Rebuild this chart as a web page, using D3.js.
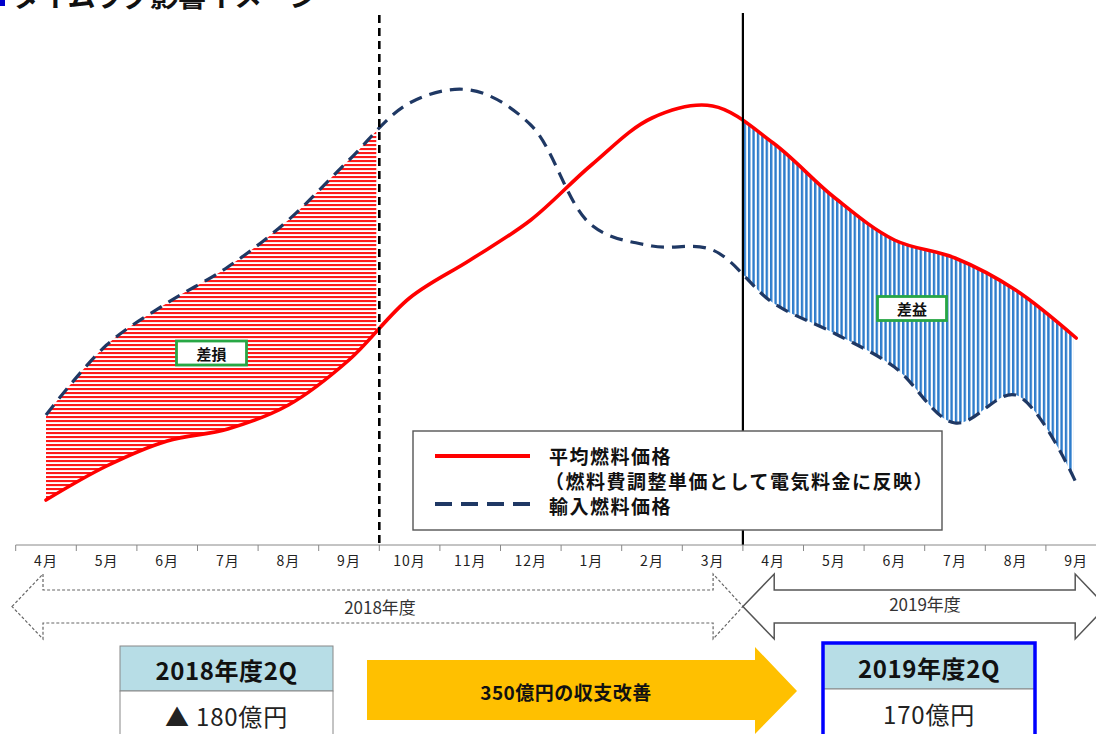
<!DOCTYPE html>
<html><head><meta charset="utf-8">
<script src="https://cdn.jsdelivr.net/npm/d3@7/dist/d3.min.js"></script>
<style>
html,body{margin:0;padding:0;background:#fff;}
svg{display:block;font-family:"Noto Sans CJK JP","Noto Sans",sans-serif;}
</style></head>
<body><svg id="chart" width="1096" height="734"></svg>
<script>
// ---- data ----
const months = ["4月","5月","6月","7月","8月","9月","10月","11月","12月","1月","2月","3月","4月","5月","6月","7月","8月","9月"];
const avgFuelPrice    = [9, 15.8, 20.8, 23.2, 28, 37, 49.4, 57, 65, 76, 85.4, 87.8, 80.4, 69.6, 61, 57.4, 51, 41.4];
const importFuelPrice = [26, 40, 48.4, 55.6, 65, 77, 88.4, 91, 84, 64, 59.8, 59, 48.4, 42.4, 35.6, 24.4, 30, 12.4];
const seriesNames = ["平均燃料価格", "（燃料費調整単価として電気料金に反映）", "輸入燃料価格"];
const fiscalYears = ["2018年度", "2019年度"];
const fiscalRanges = [[0, 11], [12, 17]];
const lossLabel = "差損", gainLabel = "差益";
const lossRange = [0, 5], gainRange = [12, 17];
const summaryLabels = ["2018年度2Q", "2019年度2Q"];
const summaryValues = ["▲ 180億円", "170億円"];
const improvementText = "350億円の収支改善";
const titleText = "タイムラグ影響イメージ";

// ---- setup ----
const svg = d3.select("#chart");
const idx = months.map((d, i) => i);
const band = d3.scaleBand().domain(idx).range([15.7, 15.7 + 18 * 60.6]).paddingInner(0).paddingOuter(0);
const x = i => band(i) + band.bandwidth() / 2;
const y = d3.scaleLinear().domain([0, 100]).range([545, 45]);
const axisY = 545;

const defs = svg.append("defs");
const pr = defs.append("pattern").attr("id", "hRed").attr("patternUnits", "userSpaceOnUse").attr("width", 8).attr("height", 4);
pr.append("rect").attr("x", 0).attr("y", 0).attr("width", 8).attr("height", 2.1).attr("fill", "#ff1a1a");
const pb = defs.append("pattern").attr("id", "vBlue").attr("patternUnits", "userSpaceOnUse").attr("width", 4.4).attr("height", 8);
pb.append("rect").attr("x", 0).attr("y", 0).attr("width", 2.4).attr("height", 8).attr("fill", "#2e7dcc");

const dashX = band(6);     // boundary 9月/10月
const solidX = band(12);   // boundary 3月/4月

defs.append("clipPath").attr("id", "clipLoss").append("rect")
  .attr("x", x(lossRange[0]) - 2).attr("y", 0).attr("width", dashX - 3 - (x(lossRange[0]) - 2)).attr("height", 734);
defs.append("clipPath").attr("id", "clipGain").append("rect")
  .attr("x", solidX).attr("y", 0).attr("width", x(gainRange[1]) - 3 - solidX).attr("height", 734);

const curve = d3.curveCatmullRom.alpha(0.5);
const area = d3.area().x(i => x(i)).y0(i => y(avgFuelPrice[i])).y1(i => y(importFuelPrice[i])).curve(curve);

svg.append("path").attr("d", area(idx)).attr("fill", "url(#hRed)").attr("clip-path", "url(#clipLoss)");
svg.append("path").attr("d", area(idx)).attr("fill", "url(#vBlue)").attr("clip-path", "url(#clipGain)");

const lineAvg = d3.line().x(i => x(i)).y(i => y(avgFuelPrice[i])).curve(curve);
const lineImp = d3.line().x(i => x(i)).y(i => y(importFuelPrice[i])).curve(curve);

svg.append("path").attr("d", lineImp(idx)).attr("fill", "none").attr("stroke", "#1f3864")
  .attr("stroke-width", 3.2).attr("stroke-dasharray", "13,8");
svg.append("path").attr("d", lineAvg(idx)).attr("fill", "none").attr("stroke", "#ff0000")
  .attr("stroke-width", 3.6).attr("stroke-linecap", "round");

// vertical lines
svg.append("line").attr("x1", dashX).attr("x2", dashX).attr("y1", 15).attr("y2", axisY)
  .attr("stroke", "#000").attr("stroke-width", 2.6).attr("stroke-dasharray", "8,5");
svg.append("line").attr("x1", solidX).attr("x2", solidX).attr("y1", 13).attr("y2", axisY)
  .attr("stroke", "#000").attr("stroke-width", 2.2);

// region labels
function tagBox(cx, cy, w, h, txt) {
  svg.append("rect").attr("x", cx - w / 2).attr("y", cy - h / 2).attr("width", w).attr("height", h)
    .attr("fill", "#fff").attr("stroke", "#28a745").attr("stroke-width", 2.8);
  svg.append("text").attr("x", cx).attr("y", cy).attr("text-anchor", "middle").attr("dominant-baseline", "central")
    .attr("font-size", 15).attr("font-weight", "bold").attr("fill", "#111").text(txt);
}
tagBox(211.5, 353, 70, 24, lossLabel);
tagBox(912, 308.5, 69, 24, gainLabel);

// legend
const lg = svg.append("g");
lg.append("rect").attr("x", 413).attr("y", 431).attr("width", 529).attr("height", 99)
  .attr("fill", "#fff").attr("stroke", "#555").attr("stroke-width", 1.4);
lg.append("line").attr("x1", 435).attr("x2", 530).attr("y1", 456).attr("y2", 456)
  .attr("stroke", "#ff0000").attr("stroke-width", 4);
lg.append("line").attr("x1", 435).attr("x2", 531).attr("y1", 504).attr("y2", 504)
  .attr("stroke", "#1f3864").attr("stroke-width", 4).attr("stroke-dasharray", "17,9");
const lt = (xx, yy, t) => lg.append("text").attr("x", xx).attr("y", yy).attr("dominant-baseline", "central")
  .attr("font-size", 19).attr("font-weight", "bold").attr("letter-spacing", 1.5).attr("fill", "#111").text(t);
lt(549, 455, seriesNames[0]);
lt(545, 480, seriesNames[1]);
lt(549, 505, seriesNames[2]);

// axis
const axisG = svg.append("g").attr("transform", `translate(0,${axisY})`);
axisG.call(d3.axisBottom(band).tickSize(0).tickPadding(11).tickFormat(i => months[i]));
axisG.select(".domain").remove();
axisG.append("line").attr("x1", band(0)).attr("x2", 1096).attr("y1", 0).attr("y2", 0).attr("stroke", "#888").attr("stroke-width", 1);
axisG.selectAll(".bnd").data(idx.concat([18])).join("line").attr("class", "bnd")
  .attr("x1", i => i < 18 ? band(i) : band(17) + band.bandwidth())
  .attr("x2", i => i < 18 ? band(i) : band(17) + band.bandwidth())
  .attr("y1", 0).attr("y2", 6).attr("stroke", "#888").attr("stroke-width", 1);
axisG.selectAll(".tick text").attr("font-size", 14).attr("fill", "#222").attr("letter-spacing", 1)
  .attr("font-family", "'Noto Sans CJK JP',sans-serif");

// fiscal-year arrows
function blockArrow(tl, bl, br, tr, cy, dashed) {
  const hh = 32.5, sh = 16.5;
  const pts = [[tl, cy], [bl, cy - hh], [bl, cy - sh], [br, cy - sh], [br, cy - hh], [tr, cy], [br, cy + hh], [br, cy + sh], [bl, cy + sh], [bl, cy + hh]];
  svg.append("path").attr("d", d3.line()(pts) + "Z").attr("fill", "none")
    .attr("stroke", dashed ? "#666" : "#555").attr("stroke-width", dashed ? 1.2 : 1.5)
    .attr("stroke-dasharray", dashed ? "3,2" : null);
}
const fy0 = fiscalRanges[0], fy1 = fiscalRanges[1];
blockArrow(x(fy0[0]) - 34, x(fy0[0]) - 3, x(fy0[1]) + 0.5, band(fy1[0]), 606.5, true);
blockArrow(band(fy1[0]), x(fy1[0]) + 1, x(fy1[1]) - 1, x(fy1[1]) + 30, 606.5, false);
svg.append("text").attr("x", 380).attr("y", 606).attr("text-anchor", "middle").attr("dominant-baseline", "central")
  .attr("font-size", 17).attr("fill", "#333").text(fiscalYears[0]);
svg.append("text").attr("x", 925).attr("y", 603).attr("text-anchor", "middle").attr("dominant-baseline", "central")
  .attr("font-size", 17).attr("fill", "#333").text(fiscalYears[1]);

// summary tables
function table(x0, x1, top, mid, label, value, highlight) {
  svg.append("rect").attr("x", x0).attr("y", top).attr("width", x1 - x0).attr("height", mid - top)
    .attr("fill", "#b7dde6").attr("stroke", "#888").attr("stroke-width", 1);
  svg.append("rect").attr("x", x0).attr("y", mid).attr("width", x1 - x0).attr("height", 60)
    .attr("fill", "#fff").attr("stroke", "#888").attr("stroke-width", 1);
  if (highlight) {
    svg.append("rect").attr("x", x0).attr("y", top).attr("width", x1 - x0).attr("height", 120)
      .attr("fill", "none").attr("stroke", "#0000ff").attr("stroke-width", 3.5);
  }
  const cx = (x0 + x1) / 2;
  svg.append("text").attr("x", cx).attr("y", (top + mid) / 2 + 1).attr("text-anchor", "middle").attr("dominant-baseline", "central")
    .attr("font-size", 24).attr("font-weight", "bold").attr("letter-spacing", 0.6).attr("fill", "#111").text(label);
  svg.append("text").attr("x", cx).attr("y", mid + 24).attr("text-anchor", "middle").attr("dominant-baseline", "central")
    .attr("font-size", 24).attr("letter-spacing", 0.8).attr("fill", "#222").text(value);
}
table(120, 333, 646, 691, summaryLabels[0], summaryValues[0], false);
table(823, 1035, 643, 689, summaryLabels[1], summaryValues[1], true);

// improvement arrow
const ap = [[367, 660], [755, 660], [755, 647], [797, 691], [755, 734], [755, 720], [367, 720]];
svg.append("path").attr("d", d3.line()(ap) + "Z").attr("fill", "#ffc000");
svg.append("text").attr("x", 566).attr("y", 691).attr("text-anchor", "middle").attr("dominant-baseline", "central")
  .attr("font-size", 19).attr("font-weight", "bold").attr("letter-spacing", 0.5).attr("fill", "#111").text(improvementText);

// title (cut off at top, as in the reference)
svg.append("rect").attr("x", 0).attr("y", 0).attr("width", 5).attr("height", 6).attr("fill", "#0000cc");
svg.append("text").attr("x", 12).attr("y", 7).attr("font-size", 28).attr("font-weight", "bold").attr("fill", "#111").text(titleText);
</script></body></html>
